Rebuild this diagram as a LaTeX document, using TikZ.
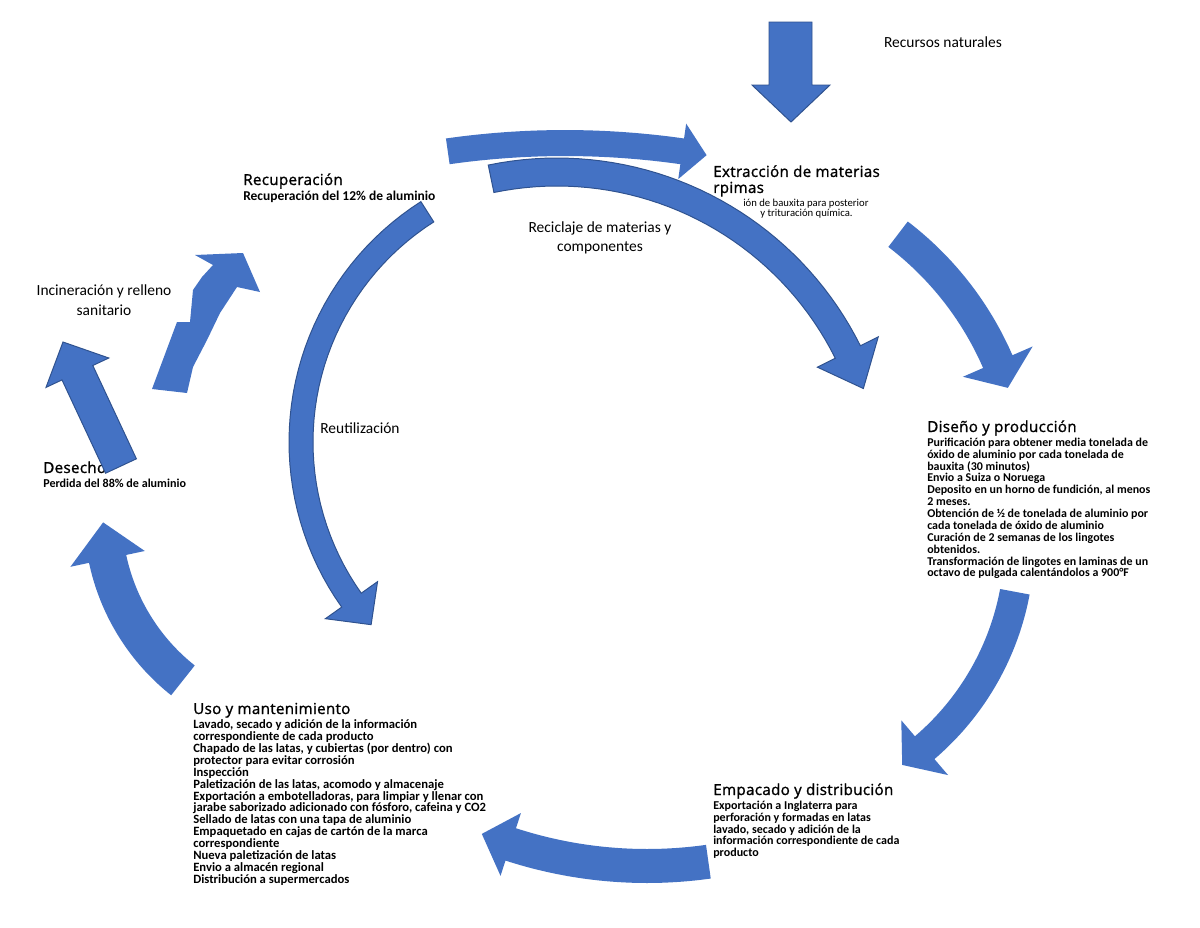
\documentclass[tikz,border=0pt]{standalone}
\usepackage{fontspec}
\setmainfont{Carlito}
\newfontfamily\headfont[LetterSpace=2,FakeBold=1.2]{Open Sans}
\usetikzlibrary{positioning}
\definecolor{CycleBlue}{HTML}{4472C4}
\definecolor{CycleEdge}{HTML}{2F528F}
\tikzset{stagehead/.style={font=\headfont\fontsize{10.8}{11.4}\selectfont,inner sep=0pt,anchor=base west},
 stagetext/.style={font=\bfseries\fontsize{#1}{8.45}\selectfont,inner sep=0pt,anchor=north west,align=left},
 stagetext/.default=8.5,
 plaintext/.style={font=\fontsize{7.6}{8}\selectfont,inner sep=0pt,anchor=base west},
 phasetext/.style={font=\fontsize{11}{13}\selectfont,inner sep=0pt,align=center},
 blockfill/.style={fill=CycleBlue},blockedge/.style={fill=CycleBlue,draw=CycleEdge,line width=0.7pt}}
\newcommand\curvedblock[9][blockfill]{\path[#1]
 plot[domain=#5:#6,samples=40,variable=\t] ({#2+(#4+#8)*cos(\t)},{#3+(#4+#8)*sin(\t)})
 -- ({#2+(#4+#9)*cos(#6)},{#3+(#4+#9)*sin(#6)}) -- ({#2+#4*cos(#7)},{#3+#4*sin(#7)})
 -- ({#2+(#4-#9)*cos(#6)},{#3+(#4-#9)*sin(#6)})
 -- plot[domain=#6:#5,samples=40,variable=\t] ({#2+(#4-#8)*cos(\t)},{#3+(#4-#8)*sin(\t)}) -- cycle;}
\begin{document}
\begin{tikzpicture}[x=0.25mm,y=-0.25mm]
\fill[white] (0,0) rectangle (1200,927);
\useasboundingbox (0,0) rectangle (1200,927);
\curvedblock{565}{975}{832}{-98.1}{-81.9}{-80.2}{13}{28}
\curvedblock[blockedge]{557}{497}{325}{-101.7}{-26.5}{-19.5}{14}{34}
\curvedblock[blockedge]{574}{442}{273}{237.5}{144.6}{138}{12}{32}
\curvedblock{702.5}{490}{322}{-52.6}{-23.5}{-18.5}{16}{38}
\curvedblock{749}{542}{270.5}{10.6}{49.5}{55.5}{15}{36}
\curvedblock{647}{425}{441}{82}{108}{112}{17}{33}
\curvedblock{314}{515}{211}{128.4}{168}{178}{19}{38}
\path[blockfill] (152,389) -- (177,322) -- (190,322) -- (193,290) -- (202,277) -- (213,265) -- (195,255)
 -- (243,253) -- (260,292) -- (237,287) -- (220,313) -- (207,340) -- (193,367) -- (187,393) -- cycle;
\draw[blockedge] (769,22) -- (812,22) -- (812,85) -- (830,85) -- (791,122) -- (752,85) -- (769,85) -- cycle;

\node[phasetext] (recursos) at (943,42) {Recursos naturales};
\node[phasetext] (reciclaje) at (600,238) {Reciclaje de materias y\\componentes};
\node[phasetext,font=\fontsize{11}{14.2}\selectfont] (incineracion) at (104,300) {Incineración y relleno\\sanitario};
\node[phasetext] (reutilizacion) at (360,428) {Reutilización};

\node[stagehead,anchor=north west,align=left] (extraccion) at (713,165) {Extracción de materias\\rpimas};
\node[plaintext] (extracciona) at (743,206.5) {ión de bauxita para posterior};
\node[plaintext] (extraccionb) at (760,216.5) {y trituración química.};

\node[stagehead] (diseno) at (927,432) {Diseño y producción};
\node[stagetext,below=4pt of diseno.base west,anchor=north west] (disenodet) {Purificación para obtener media tonelada de\\
óxido de aluminio por cada tonelada de\\bauxita (30 minutos)\\Envio a Suiza o Noruega\\
Deposito en un horno de fundición, al menos\\2 meses.\\Obtención de ½ de tonelada de aluminio por\\
cada tonelada de óxido de aluminio\\Curación de 2 semanas de los lingotes\\obtenidos.\\
Transformación de lingotes en laminas de un\\octavo de pulgada calentándolos a 900°F};

\node[stagehead] (empacado) at (713,795) {Empacado y distribución};
\node[stagetext=8.55,below=4pt of empacado.base west,anchor=north west] (empacadodet) {Exportación a Inglaterra para\\
perforación y formadas en latas\\lavado, secado y adición de la\\información correspondiente de cada\\producto};

\node[stagehead] (uso) at (193,714) {Uso y mantenimiento};
\node[stagetext=9,below=4pt of uso.base west,anchor=north west] (usodet) {Lavado, secado y adición de la información\\
correspondiente de cada producto\\Chapado de las latas, y cubiertas (por dentro) con\\
protector para evitar corrosión\\Inspección\\Paletización de las latas, acomodo y almacenaje\\
Exportación a embotelladoras, para limpiar y llenar con\\jarabe saborizado adicionado con fósforo, cafeina y CO2\\
Sellado de latas con una tapa de aluminio\\Empaquetado en cajas de cartón de la marca\\correspondiente\\
Nueva paletización de latas\\Envio a almacén regional\\Distribución a supermercados};

\node[stagehead] (recuperacion) at (243,185) {Recuperación};
\node[stagetext=9.6,below=4pt of recuperacion.base west,anchor=north west] (recuperaciondet) {Recuperación del 12\% de aluminio};

\node[stagehead] (desecho) at (43,473) {Desecho};
\node[stagetext=8.6,below=4pt of desecho.base west,anchor=north west] (desechodet) {Perdida del 88\% de aluminio};

\draw[blockedge] (136.4,458.8) -- (92.8,365.5) -- (108.8,358) -- (63,342) -- (46,387.4) -- (62,379.9) -- (105.6,473.2) -- cycle;
\end{tikzpicture}
\end{document}
